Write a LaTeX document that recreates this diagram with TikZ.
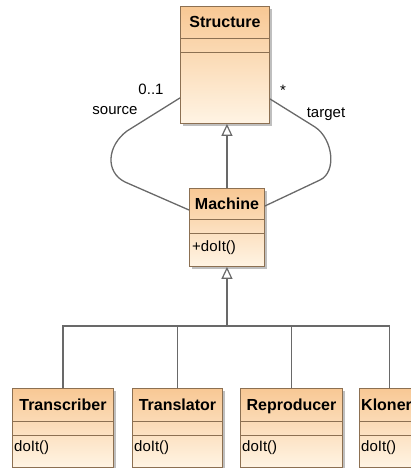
\documentclass[tikz,border=0pt]{standalone}
\usepackage{fontspec}
\setmainfont{Liberation Sans}
\usetikzlibrary{arrows.meta,calc,shadows}
\definecolor{boxtop}{RGB}{248,200,148}
\definecolor{boxbot}{RGB}{255,244,228}
\definecolor{boxline}{RGB}{140,112,82}
\definecolor{linecol}{RGB}{105,105,105}
\tikzset{
 cls/.style={draw=boxline, line width=0.9pt, top color=boxtop, bottom color=boxbot, anchor=north west, inner sep=0pt,
   drop shadow={shadow xshift=2.5pt, shadow yshift=-2.5pt, fill=black, opacity=0.25}},
 sepline/.style={draw=boxline, line width=0.9pt},
 ttl/.style={font=\bfseries\fontsize{16}{18}\selectfont, inner sep=0pt, text height=11.5pt, text depth=3.5pt},
 opr/.style={font=\fontsize{15}{18}\selectfont, inner sep=0pt, anchor=west, text height=11pt, text depth=3.5pt},
 conn/.style={draw=linecol, line width=1.3pt},
 gen/.style={conn, -{Triangle[open, length=12pt, width=11pt, line width=1.2pt]}},
 lbl/.style={font=\fontsize{15}{18}\selectfont, inner sep=0pt}
}
\begin{document}
\begin{tikzpicture}[x=1pt,y=1pt]
\path[use as bounding box, clip] (0,0) rectangle (411,-468);
% Structure
\node[cls, minimum width=89pt, minimum height=117pt] (S) at (180,-6) {};
\draw[sepline] ($(S.north west)+(0,-32)$) -- ($(S.north east)+(0,-32)$);
\draw[sepline] ($(S.north west)+(0,-46)$) -- ($(S.north east)+(0,-46)$);
\node[ttl] (St) at ($(S.north)+(0,-17.5)$) {Structure};
% Machine
\node[cls, minimum width=75pt, minimum height=78pt] (M) at (189,-188) {};
\draw[sepline] ($(M.north west)+(0,-31)$) -- ($(M.north east)+(0,-31)$);
\draw[sepline] ($(M.north west)+(0,-45)$) -- ($(M.north east)+(0,-45)$);
\node[ttl] (Mt) at ($(M.north)+(0,-17)$) {Machine};
\node[opr] (Mo) at ($(M.north west)+(3,-60)$) {+doIt()};
% subclasses
\foreach \nm/\xx/\ww in {T1/12/101, T2/132/90, T3/240/102, T4/359/60}{
  \node[cls, minimum width=\ww pt, minimum height=79pt] (\nm) at (\xx,-388) {};
  \draw[sepline] ($(\nm.north west)+(0,-33)$) -- ($(\nm.north east)+(0,-33)$);
  \draw[sepline] ($(\nm.north west)+(0,-47)$) -- ($(\nm.north east)+(0,-47)$);
  \node[opr] (\nm o) at ($(\nm.north west)+(2,-60)$) {doIt()};
}
\node[ttl] (T1t) at ($(T1.north)+(0,-18)$) {Transcriber};
\node[ttl] (T2t) at ($(T2.north)+(0,-18)$) {Translator};
\node[ttl] (T3t) at ($(T3.north)+(0,-18)$) {Reproducer};
\node[ttl, anchor=west] (T4t) at ($(T4.north west)+(2,-18)$) {Kloner};
% generalizations
\draw[gen] (M.north) -- (M.north |- S.south);
\coordinate (bus) at ($(M.south)+(0,-59)$);
\draw[conn] (T1.north) |- (bus);
\draw[conn] (T2.north) |- (bus);
\draw[conn] (T3.north) |- (bus);
\draw[conn] (T4.north) |- (bus);
\draw[gen] (bus) -- (M.south);
% associations
\draw[conn] ($(S.south west)+(0,26)$) -- (127,-131) .. controls (107,-146) and (105,-172) .. (125,-182) -- ($(M.north west)+(0,-22)$);
\draw[conn] ($(S.south east)+(0,25)$) -- (315,-127) .. controls (333,-139) and (337,-172) .. (320,-180) -- ($(M.north east)+(0,-18)$);
\node[lbl] (m1) at (151,-89) {0..1};
\node[lbl] (r1) at (115,-111) {source};
\node[lbl] (m2) at (283,-90) {*};
\node[lbl] (r2) at (326,-114) {target};
\end{tikzpicture}
\end{document}
